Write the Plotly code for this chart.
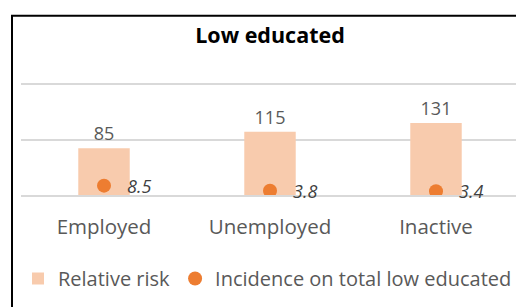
import plotly.graph_objects as go

categories = ["Employed", "Unemployed", "Inactive"]
relative_risk = [85, 115, 131]
incidence = [8.5, 3.8, 3.4]
incidence_labels = ["8.5", "3.8", "3.4"]

FONT = "Open Sans"
GRAY = "#595959"
GRID = "#D9D9D9"

# page body adds an 8px offset; figure sized to fill the remaining window
W, H = 516, 299
L, R, T, B = 13, 5, 77, 112
PW = W - L - R
PH = H - T - B

fig = go.Figure()
fig.add_trace(go.Bar(
    x=categories, y=relative_risk, name="Relative risk",
    marker=dict(color="#F8CBAD", line=dict(width=0)),
    width=0.31,
    text=[str(v) for v in relative_risk], textposition="outside",
    textfont=dict(family=FONT, size=18, color=GRAY),
    cliponaxis=False,
))
fig.add_trace(go.Scatter(
    x=categories, y=incidence, name="Incidence on total low educated",
    mode="markers", yaxis="y2",
    marker=dict(color="#ED7D31", size=14),
))

annotations = []
for c, v, t in zip(categories, incidence, incidence_labels):
    annotations.append(dict(
        x=c, y=v, xref="x", yref="y2", text="<i>" + t + "</i>",
        showarrow=False, xanchor="left", yanchor="middle", xshift=21,
        font=dict(family=FONT, size=18, color="#404040"),
    ))

fig.update_layout(
    width=W, height=H,
    margin=dict(l=L, r=R, t=T, b=B, autoexpand=False),
    paper_bgcolor="white", plot_bgcolor="white",
    font=dict(family=FONT, color=GRAY),
    title=dict(text="<b>Low educated</b>", x=0.5, xref="paper", xanchor="center",
               y=1 - 27.5 / H, yref="container", yanchor="middle",
               font=dict(family=FONT, size=21.5, color="black")),
    showlegend=True,
    legend=dict(orientation="h", x=(10 - L) / PW, xanchor="left",
                y=(PH - (270.5 - T)) / PH, yanchor="middle",
                font=dict(family=FONT, size=20, color=GRAY), bgcolor="rgba(0,0,0,0)",
                traceorder="normal"),
    xaxis=dict(showgrid=False, showline=True, linecolor=GRID, linewidth=1.5, mirror=True,
               ticks="", zeroline=False,
               tickfont=dict(family=FONT, size=20.5, color=GRAY), ticklabelstandoff=13),
    yaxis=dict(range=[0, 200], dtick=100, showgrid=True, gridcolor=GRID, gridwidth=1.5,
               zeroline=False, showticklabels=False, showline=False),
    yaxis2=dict(range=[0, 100], overlaying="y", side="right", showgrid=False,
                showticklabels=False, zeroline=False, showline=False),
    annotations=annotations,
    shapes=[dict(type="rect", xref="paper", yref="paper",
                 x0=(4 - L) / PW, x1=(530 - L) / PW,
                 y0=(PH - (320 - T)) / PH, y1=(PH - (7.7 - T)) / PH,
                 line=dict(color="black", width=2), fillcolor="rgba(0,0,0,0)", layer="above")],
)

fig.write_html("out.html")
